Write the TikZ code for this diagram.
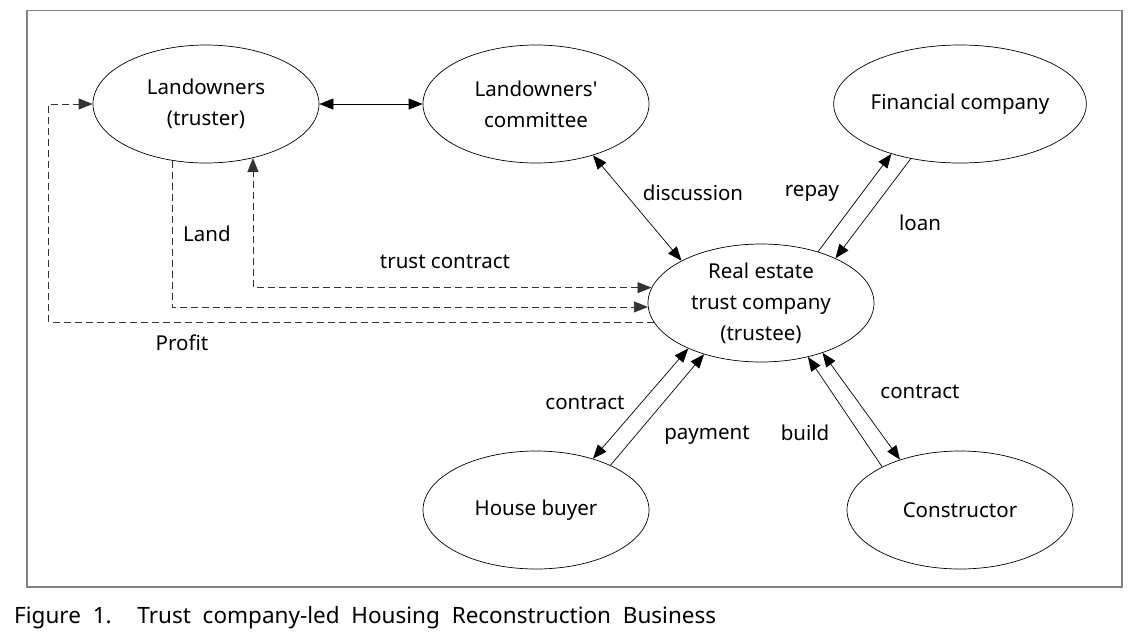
\documentclass[tikz,border=0pt]{standalone}
\usepackage{fontspec}
\setmainfont{Noto Sans}[Ligatures=TeXOff]
\usetikzlibrary{shapes.geometric,arrows.meta,calc}
\begin{document}
\begin{tikzpicture}[x=1pt,y=-1pt,
  ent/.style={draw, ellipse, minimum width=226pt, minimum height=118pt, inner sep=0pt, align=center, font=\fontsize{20.5}{31}\selectfont, line width=0.7pt},
  tip/.style={-{Triangle[length=14pt,width=11pt]}},
  conn/.style={line width=0.7pt, tip},
  bi/.style={line width=0.7pt, {Triangle[length=14pt,width=11pt]}-{Triangle[length=14pt,width=11pt]}},
  dsh/.style={line width=0.8pt, black!80, dash pattern=on 7pt off 4pt},
  lbl/.style={font=\fontsize{20.5}{24}\selectfont, inner sep=0pt}]
\useasboundingbox (0,0) rectangle (1142,641);
\draw[gray, line width=1.3pt] (27,10.5) rectangle (1122,587);

\node[ent] (lo) at (206,104) {Landowners\\(truster)};
\node[ent] (lc) at (536,104) {Landowners'\\committee};
\node[ent] (fc) at (960,104) {Financial company};
\node[ent] (re) at (761,303) {Real estate\\trust company\\(trustee)};
\node[ent] (hb) at (536,510) {House buyer};
\node[ent] (co) at (960,510) {Constructor};

% solid connectors
\draw[bi] (lo.east) -- (lc.west);
\draw[bi] (lc.318.9) -- (re.152.6);
\draw[conn] (re.42.2) -- (fc.216.9);
\draw[conn] (fc.228.1) -- (re.31.8);
\draw[bi] (hb.42) -- (re.212.3);
\draw[conn] (hb.31.2) -- (re.222.1);
\draw[conn] (co.151.7) -- (re.311.1);
\draw[bi] (co.140) -- (re.321.4);

% dashed connectors
\coordinate (pf) at ($(lo.west)+(-44,0)$);
\draw[dsh, tip] (re.190) -| (pf) -- (lo.west);
\draw[dsh, tip] (lo.239) |- (re.182);
\draw[dsh, {Triangle[length=14pt,width=11pt]}-{Triangle[length=14pt,width=11pt]}] (re.172) -| (lo.311);

% labels
\node[lbl] (l1) at (693,193) {discussion};
\node[lbl] (l2) at (812,193) {repay};
\node[lbl] (l3) at (920,223) {loan};
\node[lbl] (l4) at (445,262) {trust contract};
\node[lbl] (l5) at (207,234) {Land};
\node[lbl] (l6) at (182,343) {Profit};
\node[lbl] (l7) at (585,403) {contract};
\node[lbl] (l8) at (707,435) {payment};
\node[lbl] (l9) at (805,433) {build};
\node[lbl] (l10) at (920,392) {contract};

\node[anchor=west, inner sep=0pt, font=\fontsize{22.5}{26}\selectfont] (cap) at (14,618) {\makebox[702pt][s]{Figure 1. Trust company-led Housing Reconstruction Business}};
\end{tikzpicture}
\end{document}
